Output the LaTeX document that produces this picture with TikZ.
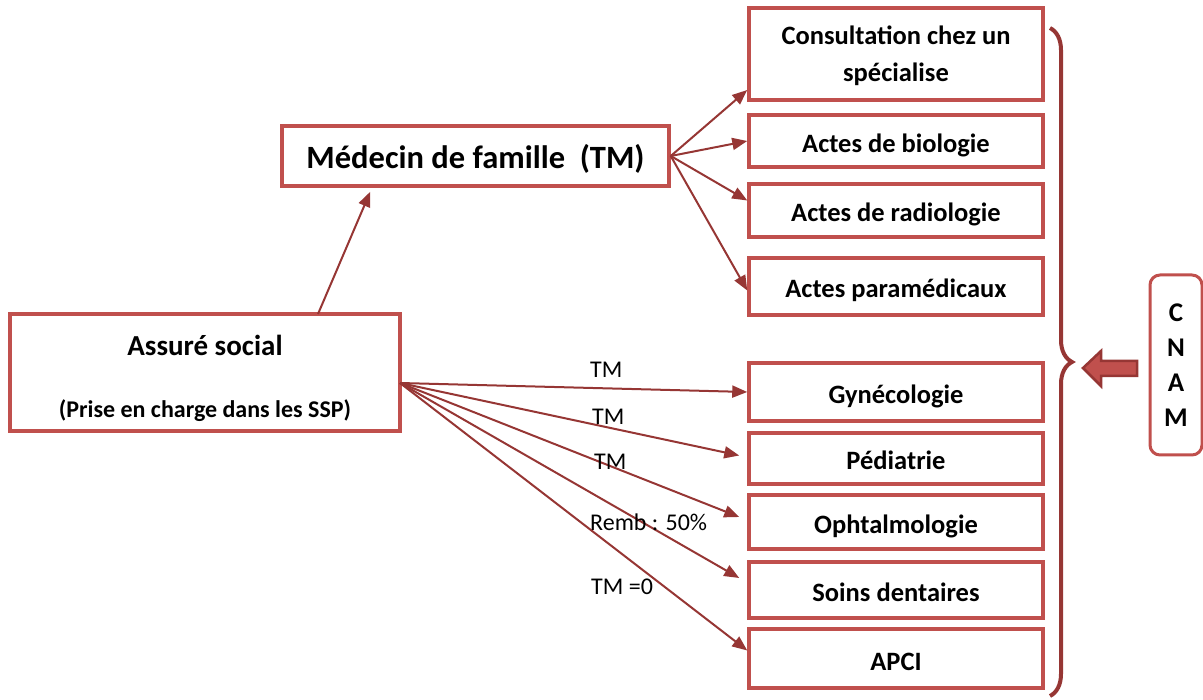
\documentclass[tikz,border=0pt]{standalone}
\usepackage{fontspec}
\setmainfont{Carlito}
\usetikzlibrary{arrows.meta,calc,decorations.pathreplacing}
\definecolor{boxred}{RGB}{192,80,77}
\definecolor{darkred}{RGB}{150,54,52}
\begin{document}
\begin{tikzpicture}[x=1pt,y=-1pt,
  box/.style={draw=boxred,line width=3.5pt,fill=white,inner sep=0pt,align=center,font=\bfseries\fontsize{26.5}{37}\selectfont},
  rbox/.style={box,minimum width=294pt,text height=30pt,text depth=7pt},
  conn/.style={draw=darkred,line width=2pt,-{Triangle[length=15pt,width=12pt]}},
  lbl/.style={font=\fontsize{24}{28}\selectfont,inner sep=0pt}]
\useasboundingbox (0,0) rectangle (1203,700);
% left boxes
\node[box,minimum width=390pt,minimum height=117pt] (ass) at (205,372.5) {};
\node[font=\bfseries\fontsize{29}{34}\selectfont,inner sep=0pt] (asst) at (205,345) {Assuré social};
\node[font=\bfseries\fontsize{24}{28}\selectfont,inner sep=0pt] (asss) at (205,411) {(Prise en charge dans les SSP)};
\node[box,minimum width=387pt,minimum height=60pt,text height=34pt,text depth=8pt,font=\bfseries\fontsize{32.5}{38}\selectfont] (med) at (475.5,156) {Médecin de famille\ \ (TM)};
% right boxes
\node[box,minimum width=294pt,minimum height=92pt,text height=63pt,text depth=7pt] (cons) at (896,54) {Consultation chez un\\spécialise};
\node[rbox,minimum height=52pt] (bio) at (896,141) {Actes de biologie};
\node[rbox,minimum height=53pt] (rad) at (896,210.5) {Actes de radiologie};
\node[rbox,minimum height=57pt] (para) at (896,286.5) {Actes paramédicaux};
\node[rbox,minimum height=58pt] (gyn) at (896,392) {Gynécologie};
\node[rbox,minimum height=51pt] (ped) at (896,458.5) {Pédiatrie};
\node[rbox,minimum height=54pt] (oph) at (896,522) {Ophtalmologie};
\node[rbox,minimum height=56pt] (soins) at (896,590) {Soins dentaires};
\node[rbox,minimum height=59pt] (apci) at (896,658.5) {APCI};
% CNAM
\node[draw=boxred,line width=3pt,rounded corners=10pt,minimum width=52pt,minimum height=180pt,inner sep=0pt,align=center,font=\bfseries\fontsize{27}{35}\selectfont] (cnam) at (1176,365) {C\\N\\A\\M};
% connectors
\coordinate (asstop) at (318,314);
\coordinate (assout) at (400,383);
\draw[conn] (asstop) -- ($(med.south west)+(90,4)$);
\draw[conn] (med.east) -- ($(cons.west)+(0,36)$);
\draw[conn] (med.east) -- (bio.west);
\draw[conn] (med.east) -- ($(rad.west)+(0,-10)$);
\draw[conn] (med.east) -- ($(para.west)+(0,4)$);
\draw[conn] (assout) -- (gyn.west);
\draw[conn] (assout) -- ($(ped.west)+(-8,-3)$);
\draw[conn] (assout) -- ($(oph.west)+(-8,-5)$);
\draw[conn] (assout) -- ($(soins.west)+(-8,-12)$);
\draw[conn] (assout) -- ($(apci.west)+(0,-8)$);
% labels
\node[lbl,anchor=west] (l1) at (590,370) {TM};
\node[lbl,anchor=west] (l2) at (592,417) {TM};
\node[lbl,anchor=west] (l3) at (594,462) {TM};
\node[lbl,anchor=west] (l4) at (590,522) {Remb : 50\%};
\node[lbl,anchor=west] (l5) at (591,587) {TM =0};
% brace
\draw[darkred,line width=4pt,decorate,decoration={brace,amplitude=22pt}] (1050,28) -- (1050,696);
% fat arrow
\coordinate (tip) at (1083,368);
\draw[draw=darkred,fill=boxred,line width=2.5pt,line join=miter]
  (tip) -- (1101,351) -- (1101,361) -- (1137,361) -- (1137,376) -- (1101,376) -- (1101,386) -- cycle;
\end{tikzpicture}
\end{document}
